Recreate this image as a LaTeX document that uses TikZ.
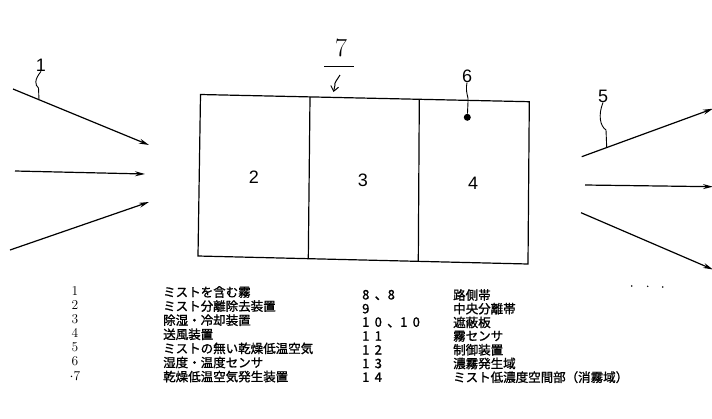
\documentclass[tikz,border=0pt]{standalone}
\usepackage{fontspec}
\newfontfamily\jp[FakeBold=1.2]{Noto Sans CJK JP}
\newfontfamily\lab{Liberation Sans}
\usetikzlibrary{arrows.meta}
\newcommand{\fwd}[1]{\makebox[12.5pt][l]{#1}}
\begin{document}
\begin{tikzpicture}[x=1pt,y=-1pt,
  flow/.style={line width=1.2pt,-{Stealth[length=10pt,width=5pt]}},
  wall/.style={line width=1.2pt},
  lead/.style={line width=0.9pt},
  biglab/.style={font=\lab\fontsize{18}{18}\selectfont,inner sep=0pt},
  legnum/.style={font=\fontsize{13.5}{13.5}\selectfont,inner sep=0pt},
  legtxt/.style={font=\jp\fontsize{12.5}{12.5}\selectfont,inner sep=0pt,anchor=west},
  rnum/.style={font=\fontsize{13}{13}\selectfont,inner sep=0pt,anchor=west}]
\useasboundingbox (0,0) rectangle (712,418);
% box corners
\coordinate (tl) at (200.5,94.5);
\coordinate (tr) at (529.3,101.7);
\coordinate (br) at (528,264);
\coordinate (bl) at (198,256);
\coordinate (d1t) at (310,96.9);
\coordinate (d1b) at (308.3,258.7);
\coordinate (d2t) at (419.3,99.3);
\coordinate (d2b) at (418.3,261.3);
\draw[wall] (tl) -- (tr) -- (br) -- (bl) -- cycle;
\draw[wall] (d1t) -- (d1b);
\draw[wall] (d2t) -- (d2b);
\node[biglab] (n2) at (254,177) {2};
\node[biglab] (n3) at (363,180) {3};
\node[biglab] (n4) at (473,183) {4};
% sensor 6
\node[biglab] (n6) at (467,76) {6};
\node[circle,fill=black,inner sep=0pt,minimum size=7pt] (dot6) at (467.3,117.3) {};
\draw[lead] (n6.south) .. controls (465,93) and (469,97) .. (468,102) -- (dot6);
% label 7
\node[font=\fontsize{26}{26}\selectfont,inner sep=0pt] (n7) at (341,48) {7};
\coordinate (u7a) at (324,66.5);
\coordinate (u7b) at (354,66.5);
\draw[line width=1.1pt] (u7a) -- (u7b);
\coordinate (s7) at (340,75);
\coordinate (e7) at (333.5,92);
\draw[line width=1pt,-{Straight Barb[length=5pt,width=8pt]}] (s7) .. controls (337,80) and (334,83) .. (335,85) -- (e7);
% inflow arrows
\coordinate (a1s) at (13,89);  \coordinate (a1e) at (149,145);
\coordinate (a2s) at (15,171); \coordinate (a2e) at (145,174);
\coordinate (a3s) at (10,250); \coordinate (a3e) at (149,202);
\draw[flow] (a1s) -- (a1e);
\draw[flow] (a2s) -- (a2e);
\draw[flow] (a3s) -- (a3e);
\node[biglab] (n1) at (41,65) {1};
\coordinate (q1) at (39,99.7);
\draw[lead] (n1.south) .. controls (34,80) and (35,85) .. (38.5,88) -- (q1);
% outflow arrows
\coordinate (b1s) at (581.7,156.7); \coordinate (b1e) at (713,108.7);
\coordinate (b2s) at (585,185);     \coordinate (b2e) at (713,186.7);
\coordinate (b3s) at (581,212.7);   \coordinate (b3e) at (713,269.5);
\draw[flow] (b1s) -- (b1e);
\draw[flow] (b2s) -- (b2e);
\draw[flow] (b3s) -- (b3e);
\node[biglab] (n5) at (603,96) {5};
\coordinate (q5) at (606.7,147.2);
\draw[lead] (n5.south) .. controls (598,115) and (600,126) .. (606,130) -- (q5);
% specks
\fill (631.7,286) circle (0.8);
\fill (647.7,286.3) circle (0.8);
\fill (662.7,287) circle (0.8);
% legend left
\foreach \n/\t [count=\i from 0] in {1/ミストを含む霧,2/ミスト分離除去装置,3/除湿・冷却装置,4/送風装置,5/ミストの無い乾燥低温空気,6/湿度・温度センサ,{$\cdot$7}/乾燥低温空気発生装置}{
  \node[legnum] (ln\i) at (75,291+14.1*\i) {\n};
  \node[legtxt] (lt\i) at (163,292+14.1*\i) {\t};
}
% legend right
\foreach \n/\t [count=\i from 0] in {{\fwd{8}、\fwd{8}}/路側帯,{\fwd{9}}/中央分離帯,{\fwd{1}\fwd{0}、\fwd{1}\fwd{0}}/遮蔽板,{\fwd{1}\fwd{1}}/霧センサ,{\fwd{1}\fwd{2}}/制御装置,{\fwd{1}\fwd{3}}/濃霧発生域,{\fwd{1}\fwd{4}}/ミスト低濃度空間部（消霧域）}{
  \node[rnum] (rn\i) at (362,295+13.7*\i) {\jp\n};
  \node[legtxt] (rt\i) at (453,295+13.7*\i) {\t};
}
\end{tikzpicture}
\end{document}
